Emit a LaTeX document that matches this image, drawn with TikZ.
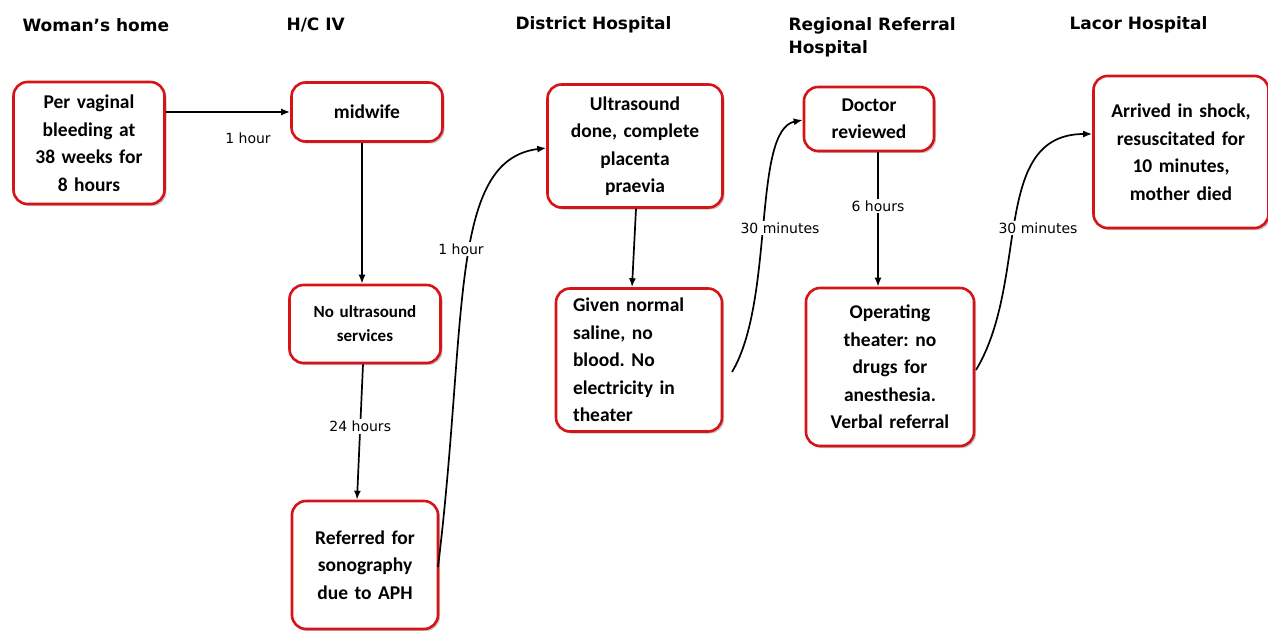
\documentclass[tikz,border=0pt]{standalone}
\usepackage{fontspec}
\setmainfont{Carlito}
\newfontfamily\headfont{DejaVu Sans}
\newfontfamily\labfont{DejaVu Sans}
\usetikzlibrary{shadows,arrows.meta}
\definecolor{boxred}{RGB}{214,20,24}
\frenchspacing
\tikzset{
  stepbox/.style={draw=boxred, line width=2.6pt, rounded corners=14pt, fill=white,
    drop shadow={opacity=0.45, shadow xshift=2pt, shadow yshift=-2pt},
    align=center, inner sep=4pt,
    font=\bfseries\fontsize{19.5}{27.5}\selectfont},
  head/.style={anchor=west, align=left, font=\headfont\bfseries\fontsize{17}{23}\selectfont},
  flow/.style={line width=1.7pt, -{Latex[length=9pt,width=7pt]}},
  lab/.style={fill=white, inner sep=2pt, font=\labfont\fontsize{14}{16}\selectfont}
}
\begin{document}
\begin{tikzpicture}[x=1pt,y=-1pt]
\useasboundingbox[fill=white] (0,0) rectangle (1268,631);

% column headings
\node[head] (h1) at (19,25) {Woman’s home};
\node[head] (h2) at (283,25) {H/C IV};
\node[head] (h3) at (512,25) {District Hospital};
\node[head] (h4) at (785,37) {Regional Referral\\Hospital};
\node[head] (h5) at (1066,25) {Lacor Hospital};

% steps of the journey
\node[stepbox, minimum width=151pt, minimum height=122pt, text width=140pt] (home) at (89,143)
  {Per vaginal\\bleeding at\\38 weeks for\\8 hours};
\node[stepbox, minimum width=151pt, minimum height=59pt, text width=140pt] (mid) at (367,112)
  {midwife};
\node[stepbox, minimum width=151pt, minimum height=78pt, text width=140pt,
  font=\bfseries\fontsize{17}{24}\selectfont] (nous) at (365,324)
  {No ultrasound\\services};
\node[stepbox, minimum width=146pt, minimum height=128pt, text width=135pt] (ref) at (365,565)
  {Referred for\\sonography\\due to APH};
\node[stepbox, minimum width=175pt, minimum height=123pt, text width=165pt] (us) at (635,146)
  {Ultrasound\\done, complete\\placenta\\praevia};
\node[stepbox, minimum width=166pt, minimum height=143pt, text width=132pt, align=left] (sal) at (639,360)
  {Given normal\\saline, no\\blood. No\\electricity in\\theater};
\node[stepbox, minimum width=130pt, minimum height=64pt, text width=120pt] (doc) at (869,119)
  {Doctor\\reviewed};
\node[stepbox, minimum width=168pt, minimum height=158pt, text width=158pt] (op) at (890,367)
  {Operating\\theater: no\\drugs for\\anesthesia.\\Verbal referral};
\node[stepbox, minimum width=175pt, minimum height=152pt, text width=165pt] (arr) at (1181,152)
  {Arrived in shock,\\resuscitated for\\10 minutes,\\mother died};

% connectors
\draw[flow] (home.east |- 0,112) -- (mid.west |- 0,112);
\node[lab] (l1) at (248,138) {1 hour};

\draw[flow] (mid.south -| 362,0) -- (nous.north -| 362,0);

\draw[flow] (nous.south -| 363,0) -- (ref.north -| 357,0)
  node[lab, pos=0.46] (l2) {24 hours};

\coordinate (refout) at (438,567);
\draw[flow] (refout) .. controls (468,320) and (448,160) .. (us.west |- 0,148);
\node[lab] (l3) at (461,249) {1 hour};

\draw[flow] (us.south -| 636,0) -- (sal.north -| 632,0);

\coordinate (salout) at (732,372);
\draw[flow] (salout) .. controls (775,300) and (752,130) .. (doc.west |- 0,120);
\node[lab] (l4) at (780,228) {30 minutes};

\draw[flow] (doc.south -| 878,0) -- (op.north -| 878,0)
  node[lab, pos=0.4] (l5) {6 hours};

\coordinate (opout) at (976,370);
\draw[flow] (opout) .. controls (1030,280) and (990,134) .. (arr.west |- 0,134);
\node[lab] (l6) at (1038,228) {30 minutes};
\end{tikzpicture}
\end{document}
